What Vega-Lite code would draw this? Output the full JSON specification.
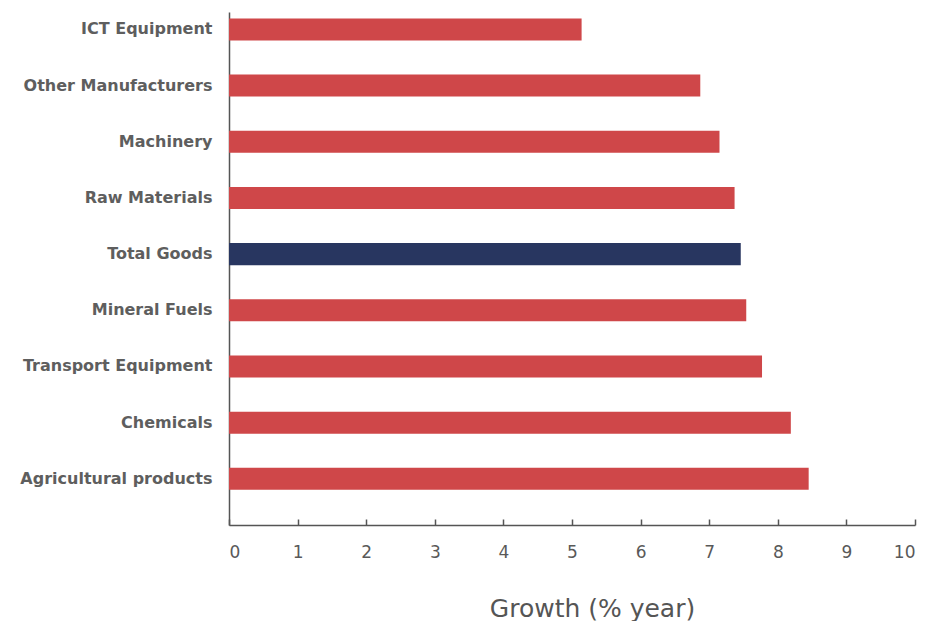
{
  "$schema": "https://vega.github.io/schema/vega-lite/v6.json",
  "autosize": {"type": "none"},
  "padding": {"left": 229, "top": 12, "right": 17, "bottom": 96},
  "width": 686,
  "height": 513,
  "background": "white",
  "config": {"view": {"stroke": null}},
  "data": {
    "values": [
      {"category": "ICT Equipment", "growth": 5.14, "group": "sector"},
      {"category": "Other Manufacturers", "growth": 6.87, "group": "sector"},
      {"category": "Machinery", "growth": 7.15, "group": "sector"},
      {"category": "Raw Materials", "growth": 7.37, "group": "sector"},
      {"category": "Total Goods", "growth": 7.46, "group": "total"},
      {"category": "Mineral Fuels", "growth": 7.54, "group": "sector"},
      {"category": "Transport Equipment", "growth": 7.77, "group": "sector"},
      {"category": "Chemicals", "growth": 8.19, "group": "sector"},
      {"category": "Agricultural products", "growth": 8.45, "group": "sector"}
    ]
  },
  "mark": {"type": "bar"},
  "encoding": {
    "y": {
      "field": "category",
      "type": "nominal",
      "sort": null,
      "scale": {"paddingInner": 0.608, "paddingOuter": 0.37, "align": 0.154},
      "axis": {
        "title": null,
        "ticks": false,
        "domainColor": "#555555",
        "domainWidth": 1.5,
        "labelFont": "DejaVu Sans",
        "labelFontSize": 16,
        "labelFontWeight": "bold",
        "labelColor": "#5e5e5e",
        "labelPadding": 17,
        "labelLimit": 320
      }
    },
    "x": {
      "field": "growth",
      "type": "quantitative",
      "scale": {"domain": [0, 10], "nice": false},
      "axis": {
        "title": "Growth (% year)",
        "values": [0, 1, 2, 3, 4, 5, 6, 7, 8, 9, 10],
        "grid": false,
        "tickSize": -6,
        "tickColor": "#555555",
        "tickWidth": 1.5,
        "domainColor": "#555555",
        "domainWidth": 1.5,
        "labelFont": "DejaVu Sans",
        "labelFontSize": 17,
        "labelColor": "#595959",
        "labelPadding": 25,
        "titleFont": "DejaVu Sans",
        "titleFontSize": 25,
        "titleFontWeight": "normal",
        "titleColor": "#555555",
        "titleX": 363,
        "titleY": 91,
        "titleBaseline": "alphabetic"
      }
    },
    "color": {
      "field": "group",
      "type": "nominal",
      "scale": {"domain": ["sector", "total"], "range": ["#CF4749", "#283660"]},
      "legend": null
    }
  }
}
